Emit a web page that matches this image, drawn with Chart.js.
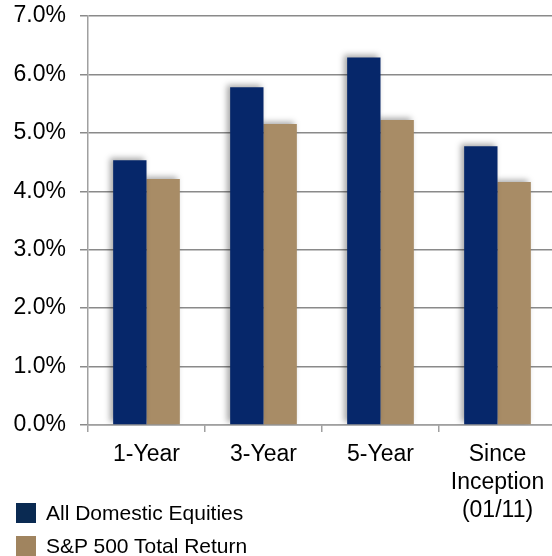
<!DOCTYPE html>
<html>
<head>
<meta charset="utf-8">
<script src="https://cdn.jsdelivr.net/npm/chart.js@4"></script>
<style>
  html, body { margin: 0; padding: 0; background: #fff; overflow: hidden; }
  #wrap { position: relative; width: 560px; height: 556px; }
  #legend { position: absolute; left: 16px; top: 503px; font: 21px "Liberation Sans", Arial, sans-serif; color: #000; }
  #legend div { display: flex; align-items: center; height: 20px; margin-bottom: 13px; white-space: nowrap; }
  #legend span.box { display: inline-block; width: 20px; height: 20px; margin-right: 10px; }
</style>
</head>
<body>
<div id="wrap">
  <canvas id="chart" width="560" height="556"></canvas>
  <div id="legend"></div>
</div>
<script>
const categories = ['1-Year', '3-Year', '5-Year', ['Since', 'Inception', '(01/11)']];
const seriesNames = ['All Domestic Equities', 'S&P 500 Total Return'];
const domesticEquities = [4.53, 5.78, 6.29, 4.77];
const sp500TotalReturn = [4.21, 5.15, 5.22, 4.16];
const barColors = ['#06276a', '#a88c66'];
const legendColors = ['#0a2a52', '#a0845f'];

const font = { family: '"Liberation Sans", Arial, sans-serif', size: 23, lineHeight: 1.22 };

const barShadow = {
  id: 'barShadow',
  beforeDatasetsDraw(chart) {
    const ctx = chart.ctx;
    ctx.save();
    ctx.shadowColor = 'rgba(0,0,0,0.35)';
    ctx.shadowBlur = 6;
    ctx.shadowOffsetX = -3;
    ctx.shadowOffsetY = -2;
  },
  afterDatasetsDraw(chart) { chart.ctx.restore(); }
};

const chart = new Chart(document.getElementById('chart'), {
  type: 'bar',
  data: {
    labels: categories,
    datasets: [
      { label: seriesNames[0], data: domesticEquities, backgroundColor: barColors[0] },
      { label: seriesNames[1], data: sp500TotalReturn, backgroundColor: barColors[1] }
    ]
  },
  options: {
    responsive: false,
    animation: false,
    layout: { padding: { left: 0, top: 16, right: 4, bottom: 0 } },
    datasets: { bar: { categoryPercentage: 0.57, barPercentage: 1 } },
    plugins: { legend: { display: false }, tooltip: { enabled: false } },
    scales: {
      x: {
        grid: { offset: true, drawOnChartArea: false, tickLength: 7, color: '#a0a0a0', lineWidth: 1.5 },
        border: { color: '#a0a0a0', width: 1.5 },
        ticks: { color: '#000', font: font, padding: 9, maxRotation: 0, autoSkip: false },
        afterFit(scale) { scale.height = 131; scale.paddingLeft = 0; scale.paddingRight = 0; }
      },
      y: {
        min: 0, max: 7,
        grid: { color: '#8a8a8a', lineWidth: 1.5, tickLength: 8 },
        border: { color: '#a0a0a0', width: 1.5 },
        ticks: { stepSize: 1, color: '#000', font: font, padding: 14, callback: v => v.toFixed(1) + '%' },
        afterFit(scale) { scale.width = 88; scale.paddingTop = 0; scale.paddingBottom = 0; }
      }
    }
  },
  plugins: [barShadow]
});

const legend = document.getElementById('legend');
chart.data.datasets.forEach((ds, i) => {
  const row = document.createElement('div');
  row.innerHTML = '<span class="box" style="background:' + legendColors[i] + '"></span>' + ds.label.replace('&', '&amp;');
  legend.appendChild(row);
});
</script>
</body>
</html>
